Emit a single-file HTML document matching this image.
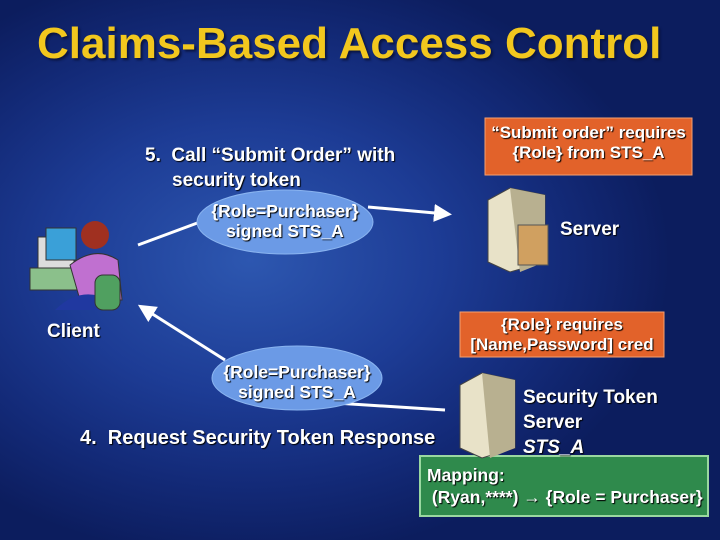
<!DOCTYPE html>
<html><head><style>
body{margin:0;width:720px;height:540px;overflow:hidden;font-family:"Liberation Sans",sans-serif;}
#bg{position:absolute;left:0;top:0;width:720px;height:540px;background:radial-gradient(ellipse 420px 300px at 250px 260px,#2d57b0 0%,#1d3c95 45%,#132a78 75%,#0c1d5e 100%);}
.t{position:absolute;color:#fff;font-weight:bold;font-size:19px;line-height:25px;white-space:nowrap;text-shadow:1px 1px 1px #000;}
</style></head><body>
<div id="bg"></div>
<div style="position:absolute;left:37px;top:19px;font-size:44px;font-weight:bold;color:#f2c71e;text-shadow:2px 2px 2px #0a1440;white-space:nowrap">Claims-Based Access Control</div>
<svg width="720" height="540" style="position:absolute;left:0;top:0">
<defs><marker id="a" markerWidth="6" markerHeight="6" refX="4" refY="3" orient="auto"><path d="M0,0 L6,3 L0,6z" fill="#fff"/></marker></defs>
<line x1="138" y1="245" x2="200" y2="222" stroke="#fff" stroke-width="3"/>
<line x1="368" y1="207" x2="446" y2="214" stroke="#fff" stroke-width="3" marker-end="url(#a)"/>
<line x1="225" y1="360" x2="143" y2="308" stroke="#fff" stroke-width="3" marker-end="url(#a)"/>
<line x1="320" y1="402" x2="445" y2="410" stroke="#fff" stroke-width="3"/>
<ellipse cx="285" cy="222" rx="88" ry="32" fill="#6b9ae6" stroke="#8ab4f0"/>
<ellipse cx="297" cy="378" rx="85" ry="32" fill="#6b9ae6" stroke="#8ab4f0"/>
<rect x="485" y="118" width="207" height="57" fill="#e2622a" stroke="#f5a070"/>
<rect x="460" y="312" width="204" height="45" fill="#e2622a" stroke="#f5a070"/>
<rect x="420" y="456" width="288" height="60" fill="#2f8a4c" stroke="#9ad8a0" stroke-width="2"/>
<polygon points="488,200 510,188 545,195 545,262 510,272 488,262" fill="#e8e2c8" stroke="#444"/>
<polygon points="510,188 545,195 545,262 520,272" fill="#b8b090"/>
<rect x="518" y="225" width="30" height="40" fill="#d0a060" stroke="#555"/>
<polygon points="460,385 482,373 515,380 515,448 482,458 460,448" fill="#e8e2c8" stroke="#444"/>
<polygon points="482,373 515,380 515,448 490,458" fill="#b8b090"/>
<rect x="38" y="237" width="36" height="38" fill="#ddd" stroke="#333"/>
<rect x="46" y="228" width="30" height="32" fill="#3aa0d8" stroke="#333"/>
<rect x="30" y="268" width="55" height="22" fill="#8bc08b" stroke="#333"/>
<circle cx="95" cy="235" r="14" fill="#a03020"/>
<path d="M70,265 Q95,245 118,260 L122,300 L80,300z" fill="#c070d0" stroke="#333"/>
<path d="M55,310 Q80,285 110,300 L110,310z" fill="#2038a0"/>
<rect x="95" y="275" width="25" height="35" rx="8" fill="#50a060" stroke="#333"/>
</svg>
<div class="t" style="left:145px;top:143px">5.&nbsp; Call “Submit Order” with</div>
<div class="t" style="left:172px;top:168px">security token</div>
<div class="t" style="left:187px;top:201px;width:196px;text-align:center;font-size:17.5px;line-height:20px">{Role=Purchaser}<br>signed STS_A</div>
<div class="t" style="left:202px;top:362px;width:190px;text-align:center;font-size:17.5px;line-height:20px">{Role=Purchaser}<br>signed STS_A</div>
<div class="t" style="left:480px;top:123px;width:217px;text-align:center;font-size:17px;line-height:20px">“Submit order” requires<br>{Role} from STS_A</div>
<div class="t" style="left:452px;top:315px;width:220px;text-align:center;font-size:17px;line-height:20px">{Role} requires<br>[Name,Password] cred</div>
<div class="t" style="left:560px;top:217px">Server</div>
<div class="t" style="left:47px;top:319px">Client</div>
<div class="t" style="left:80px;top:426px;font-size:20px">4.&nbsp; Request Security Token Response</div>
<div class="t" style="left:523px;top:385px">Security Token<br>Server<br><i>STS_A</i></div>
<div class="t" style="left:427px;top:464px;font-size:17.5px;line-height:22px">Mapping:<br>&nbsp;(Ryan,****) → {Role = Purchaser}</div>
</body></html>
